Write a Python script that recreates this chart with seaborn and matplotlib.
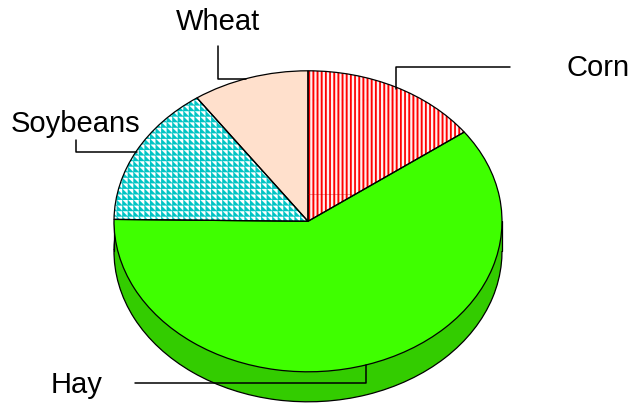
import numpy as np
import seaborn as sns
import matplotlib.pyplot as plt
import matplotlib.hatch as mhatch
from matplotlib.lines import Line2D
from matplotlib.patches import Rectangle
from matplotlib.path import Path

crops = ["Corn", "Hay", "Soybeans", "Wheat"]
shares = [14.9, 60.3, 15.1, 9.7]
face_colors = ["#fff0f0", "#3fff00", "white", "#ffe0cc"]
hatch_colors = ["#ff0000", "#3fff00", "#00c4c4", "#ffe0cc"]
hatches = ["v", None, "t", None]
side_color = "#33cc00"

W, H = 631, 404
cx, cy = 308, 221.3
rx, ry = 194, 150.5
depth = 30


# matplotlib has no stock pattern for these two fills, so add them
class FilledTiles(mhatch.HatchPatternBase):
    filled = True
    tri_n = 18
    bar_n = 24

    def __init__(self, hatch, density):
        self.tris = hatch.count("t")
        self.bars = hatch.count("v")
        self.num_vertices = self.tri_n ** 2 * 4 * self.tris + self.bar_n * 5 * self.bars

    def set_vertices_and_codes(self, vertices, codes):
        pts = []
        if self.tris:
            s = 1 / self.tri_n
            for i in range(self.tri_n):
                for j in range(self.tri_n):
                    x, y = i * s, j * s
                    pts.append([(x, y), (x + 1.05 * s, y), (x, y + 1.05 * s), (x, y)])
        if self.bars:
            s = 1 / self.bar_n
            for i in range(self.bar_n):
                x = i * s
                pts.append([(x, 0), (x + 0.42 * s, 0), (x + 0.42 * s, 1), (x, 1), (x, 0)])
        k = 0
        for shape in pts:
            for n, p in enumerate(shape):
                vertices[k] = p
                if n == 0:
                    codes[k] = Path.MOVETO
                elif n == len(shape) - 1:
                    codes[k] = Path.CLOSEPOLY
                else:
                    codes[k] = Path.LINETO
                k += 1


mhatch._hatch_types.append(FilledTiles)

sns.set_theme(style="white")
plt.rcParams["font.family"] = ["Liberation Sans", "DejaVu Sans"]
plt.rcParams["hatch.linewidth"] = 0.1

fig = plt.figure(figsize=(W / 100, H / 100), dpi=100)
ax = fig.add_axes([0, 0, 1, 1])

edge = {"edgecolor": "black", "linewidth": 0.9}
drop = depth / ry

# side of the disc first, then the top face on it
ax.pie(shares, startangle=90, counterclock=False, center=(0, -drop),
       colors=[side_color] * 4, wedgeprops=edge)
ax.add_patch(Rectangle((-1, -drop), 2, drop, facecolor=side_color, edgecolor="none", zorder=2))
ax.plot([-1, -1], [-drop, 0], color="black", lw=0.9, zorder=2)
ax.plot([1, 1], [-drop, 0], color="black", lw=0.9, zorder=2)

wedges, _ = ax.pie(shares, startangle=90, counterclock=False, colors=face_colors,
                   wedgeprops={"linewidth": 0})
for w, col, fc, h in zip(wedges, hatch_colors, face_colors, hatches):
    w.set_zorder(3)
    w.set_edgecolor(col)
    w.set_facecolor(fc)
    w.set_linewidth(0)
    if h:
        w.set_hatch(h)

outline, _ = ax.pie(shares, startangle=90, counterclock=False,
                    wedgeprops={"fill": False, **edge})
for w in outline:
    w.set_zorder(4)

ax.set_aspect("auto")
ax.set_xlim(-cx / rx, (W - cx) / rx)
ax.set_ylim((cy - H) / ry, cy / ry)
ax.axis("off")


def leader(xs, ys):
    fig.add_artist(Line2D([x / W for x in xs], [1 - y / H for y in ys],
                          color="black", lw=1.1, zorder=6))


leader([396, 396, 510], [89, 67, 67])
leader([218, 218, 246], [46, 79, 79])
leader([76, 76, 137], [140, 152, 152])
leader([135, 366, 366], [383, 383, 365])
fig.add_artist(Line2D([308 / W, 352 / W], [1 - 193.5 / H] * 2, color="#c00000",
                      lw=0.7, alpha=0.35, zorder=6))

label_pos = [(598, 68), (77, 385), (75, 124), (218.5, 22)]
for crop, (x, y) in zip(crops, label_pos):
    fig.text(x / W, 1 - y / H, crop, fontsize=21, color="black",
             ha="center", va="center")

fig.savefig("out.png", dpi=100)
